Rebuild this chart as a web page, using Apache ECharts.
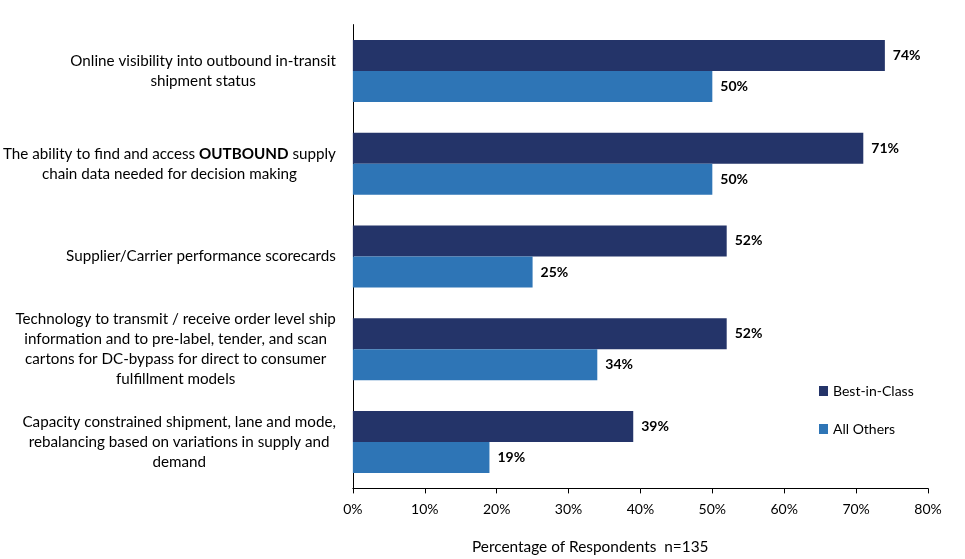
<!DOCTYPE html>
<html lang="en">
<head>
    <meta charset="UTF-8">
    <title>Outbound visibility capabilities</title>
    <script src="https://cdn.jsdelivr.net/npm/echarts@6/dist/echarts.min.js"></script>
    <style>
        html, body { margin: 0; padding: 0; background: #fff; }
    </style>
</head>
<body>
    <div id="main" style="width: 965px;height:559px;"></div>
    <script type="text/javascript">
        // categories, top to bottom (lines split as in the original)
        var categories = [
            'Online visibility into outbound in-transit\nshipment status',
            'The ability to find and access OUTBOUND supply\nchain data needed for decision making',
            'Supplier/Carrier performance scorecards',
            'Technology to transmit / receive order level ship\ninformation and to pre-label, tender, and scan\ncartons for DC-bypass for direct to consumer\nfulfillment models',
            'Capacity constrained shipment, lane and mode,\nrebalancing based on variations in supply and\ndemand'
        ];
        var bestInClass = [74, 71, 52, 52, 39];
        var allOthers = [50, 50, 25, 34, 19];
        var xTicks = [0, 10, 20, 30, 40, 50, 60, 70, 80];

        var FONT = 'Lato, "Open Sans", sans-serif';

        // each line is a centred token, so lines centre inside the right-aligned block
        function catLabel(value) {
            return value.split('\n').map(function (line) {
                if (line.indexOf('OUTBOUND') >= 0) {
                    var parts = line.split('OUTBOUND');
                    return '{c|' + parts[0] + '}{b|OUTBOUND}{c|' + parts[1] + '}';
                }
                return '{c|' + line + '}';
            }).join('\n');
        }

        var myChart = echarts.init(document.getElementById('main'));

        var option = {
            animation: false,
            title: {
                text: 'Percentage of Respondents  n=135',
                left: 467,
                top: 535,
                textStyle: { fontFamily: FONT, fontSize: 15.4, fontWeight: 'normal', color: '#000' }
            },
            legend: {
                orient: 'vertical',
                left: 814,
                top: 379,
                itemGap: 24,
                itemWidth: 9,
                itemHeight: 10,
                icon: 'rect',
                textStyle: { fontFamily: FONT, fontSize: 14, color: '#000' },
                data: ['Best-in-Class', 'All Others']
            },
            grid: {
                left: 352,
                right: 37,
                top: 24.6,
                bottom: 70.6,
                containLabel: false
            },
            xAxis: {
                type: 'value',
                min: xTicks[0],
                max: xTicks[xTicks.length - 1],
                interval: 10,
                splitLine: { show: false },
                axisLine: { show: true, lineStyle: { color: '#000', width: 1 } },
                axisTick: { show: true, length: 5, lineStyle: { color: '#000' } },
                axisLabel: {
                    margin: 14,
                    fontFamily: FONT,
                    fontSize: 14,
                    color: '#000',
                    formatter: '{value}%'
                }
            },
            yAxis: {
                type: 'category',
                inverse: true,
                data: categories,
                axisLine: { show: true, lineStyle: { color: '#000', width: 1 } },
                axisTick: { show: false },
                axisLabel: {
                    margin: 17,
                    lineHeight: 20,
                    formatter: catLabel,
                    rich: {
                        c: { fontFamily: FONT, fontSize: 15.2, color: '#000', align: 'center', lineHeight: 20 },
                        b: { fontFamily: FONT, fontSize: 15.2, color: '#000', fontWeight: 'bold', align: 'center', lineHeight: 20 }
                    }
                }
            },
            series: [
                {
                    name: 'Best-in-Class',
                    type: 'bar',
                    data: bestInClass,
                    barGap: '0%',
                    barCategoryGap: '33%',
                    itemStyle: { color: '#243469' },
                    label: {
                        show: true,
                        position: 'right',
                        distance: 8,
                        formatter: '{c}%',
                        fontFamily: FONT,
                        fontSize: 14,
                        fontWeight: 'bold',
                        color: '#000'
                    }
                },
                {
                    name: 'All Others',
                    type: 'bar',
                    data: allOthers,
                    barGap: '0%',
                    barCategoryGap: '33%',
                    itemStyle: { color: '#2e75b6' },
                    label: {
                        show: true,
                        position: 'right',
                        distance: 8,
                        formatter: '{c}%',
                        fontFamily: FONT,
                        fontSize: 14,
                        fontWeight: 'bold',
                        color: '#000'
                    }
                }
            ]
        };

        myChart.setOption(option);
    </script>
</body>
</html>
